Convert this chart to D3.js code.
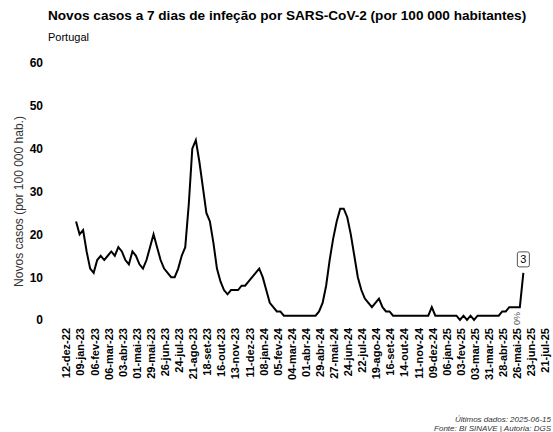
<!DOCTYPE html>
<html><head><meta charset="utf-8">
<script src="https://cdn.jsdelivr.net/npm/d3@7"></script>
<style>body{margin:0;background:#fff;font-family:Arial,"Liberation Sans",sans-serif}</style>
</head><body><svg id="c" width="553" height="432"></svg>
<script>
// weekly series, first week 2023-01-01, last 2025-06-15
var startDate = "2023-01-01";
var values = [23,20,21,16,12,11,14,15,14,15,16,15,17,16,14,13,16,15,13,12,14,17,20,17,14,12,11,10,10,12,15,17,27,40,42,37,31,25,23,18,12,9,7,6,7,7,7,8,8,9,10,11,12,
  10,7,4,3,2,2,1,1,1,1,1,1,1,1,1,1,2,4,8,14,19,23,26,26,24,20,15,10,7,5,4,3,4,5,3,2,2,1,1,1,1,1,1,1,1,1,1,1,3,1,1,1,1,1,1,1,
  0,1,0,1,0,1,1,1,1,1,1,1,2,2,3,3,3,3,11];
var yTicks = [0,10,20,30,40,50,60];
var months = ["jan","fev","mar","abr","mai","jun","jul","ago","set","out","nov","dez"];
var lastLabel = "3";

var svg = d3.select("#c");
var parse = d3.timeParse("%Y-%m-%d");
var t0 = parse(startDate);
var data = values.map(function(v,i){ return {d: d3.timeDay.offset(t0, 7*i), v: v}; });

var x = d3.scaleTime().domain([parse("2022-12-12"), parse("2025-07-21")]).range([66,545]);
var y = d3.scaleLinear().domain([0,60]).range([320,63]);

svg.append("text").attr("x",48).attr("y",20).attr("font-size",13.6).attr("font-weight","bold")
  .text("Novos casos a 7 dias de infeção por SARS-CoV-2 (por 100 000 habitantes)");
svg.append("text").attr("x",48).attr("y",41).attr("font-size",11).text("Portugal");

var yAx = svg.append("g").attr("transform","translate(46,0)")
  .call(d3.axisLeft(y).tickValues(yTicks).tickSize(0));
yAx.select(".domain").remove();
yAx.selectAll("text").attr("font-size",12).attr("font-weight","bold").attr("fill","#000").attr("font-family","Arial,'Liberation Sans',sans-serif");

svg.append("text").attr("transform","translate(23,"+((63+320)/2+10)+") rotate(-90)")
  .attr("text-anchor","middle").attr("font-size",12).attr("fill","#333")
  .text("Novos casos (por 100 000 hab.)");

var ticks = d3.range(35).map(function(i){ return d3.timeDay.offset(parse("2022-12-12"), 28*i); });
var fmt = function(d){ return d3.timeFormat("%d")(d)+"-"+months[d.getMonth()]+"-"+d3.timeFormat("%y")(d); };
var xAx = svg.append("g").attr("transform","translate(0,326)")
  .call(d3.axisBottom(x).tickValues(ticks).tickFormat(fmt).tickSize(0));
xAx.select(".domain").remove();
xAx.selectAll("text").attr("transform","rotate(-90)").attr("text-anchor","end")
  .attr("x",-2).attr("y",0).attr("dy","0.35em")
  .attr("font-size",11).attr("font-weight","bold").attr("fill","#000").attr("font-family","Arial,'Liberation Sans',sans-serif");

var line = d3.line().x(function(d){return x(d.d);}).y(function(d){return y(d.v);}).curve(d3.curveLinear);
svg.append("path").datum(data).attr("d",line).attr("fill","none").attr("stroke","#000").attr("stroke-width",2);

var last = data[data.length-1];
svg.append("text").attr("transform","translate("+(x(last.d)-3)+","+(y(0)+5)+") rotate(-90)")
  .attr("font-size",9).attr("fill","#555").text("0%");
var bx = x(last.d), by = y(last.v)-5;
svg.append("rect").attr("x",bx-6).attr("y",by-16).attr("width",12).attr("height",15).attr("rx",2)
  .attr("fill","#fff").attr("stroke","#555");
svg.append("text").attr("x",bx).attr("y",by-4.5).attr("text-anchor","middle").attr("font-size",11).text(lastLabel);

svg.append("text").attr("x",551).attr("y",422).attr("text-anchor","end").attr("font-size",8).attr("font-style","italic").attr("fill","#333")
  .text("Últimos dados: 2025-06-15");
svg.append("text").attr("x",551).attr("y",431).attr("text-anchor","end").attr("font-size",8).attr("font-style","italic").attr("fill","#333")
  .text("Fonte: BI SINAVE | Autoria: DGS");
</script></body></html>
